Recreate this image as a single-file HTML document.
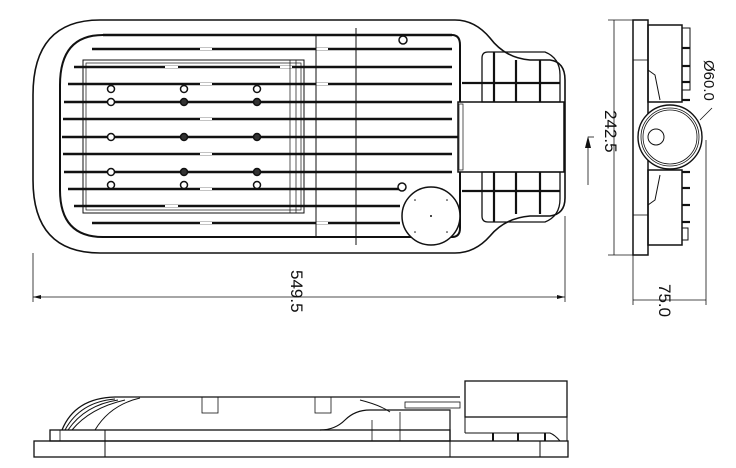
<!DOCTYPE html>
<html><head><meta charset="utf-8"><style>html,body{margin:0;padding:0;background:#fff}svg{display:block}</style></head>
<body>
<svg width="736" height="468" viewBox="0 0 736 468" xmlns="http://www.w3.org/2000/svg" fill="none" stroke="#111" font-family="Liberation Sans, sans-serif">
<!-- TOP VIEW -->
<path d="M100,20 H455 Q475,20 490,38 Q505,58 530,60 H550 Q565,62 565,80 V198 Q565,214 550,216 H530 Q505,218 490,236 Q475,253 455,253 H100 Q33,253 33,180 V95 Q33,20 100,20 Z" stroke-width="1.6"/>
<path d="M103,35 H452 Q460,35 460,45 V228 Q460,237 452,237 H103 Q60,237 60,190 V85 Q60,35 103,35 Z" stroke-width="2"/>
<g stroke-width="2.6">
<line x1="103" y1="35" x2="452" y2="35"/>
<line x1="92" y1="49" x2="452" y2="49"/>
<line x1="74" y1="67" x2="452" y2="67"/>
<line x1="68" y1="84" x2="452" y2="84"/>
<line x1="64" y1="102" x2="452" y2="102"/>
<line x1="63" y1="119" x2="452" y2="119"/>
<line x1="62" y1="137" x2="458" y2="137"/>
<line x1="63" y1="154" x2="452" y2="154"/>
<line x1="64" y1="172" x2="452" y2="172"/>
<line x1="68" y1="189" x2="400" y2="189"/>
<line x1="74" y1="206" x2="400" y2="206"/>
<line x1="92" y1="223" x2="400" y2="223"/>
</g>
<g stroke="#fff" stroke-width="2">
<line x1="200" y1="49" x2="212" y2="49"/><line x1="316" y1="49" x2="328" y2="49"/>
<line x1="165" y1="67" x2="178" y2="67"/><line x1="280" y1="67" x2="292" y2="67"/>
<line x1="200" y1="84" x2="212" y2="84"/><line x1="316" y1="84" x2="328" y2="84"/>
<line x1="200" y1="119" x2="212" y2="119"/><line x1="200" y1="154" x2="212" y2="154"/>
<line x1="200" y1="189" x2="212" y2="189"/><line x1="165" y1="206" x2="178" y2="206"/>
<line x1="200" y1="223" x2="212" y2="223"/><line x1="316" y1="223" x2="328" y2="223"/>
</g>
<rect x="83" y="60" width="221" height="153" stroke-width="1"/>
<rect x="86" y="63" width="215" height="147" stroke-width="0.7"/>
<line x1="290" y1="60" x2="290" y2="213" stroke-width="0.7"/><line x1="296" y1="60" x2="296" y2="213" stroke-width="0.7"/>
<line x1="316" y1="35" x2="316" y2="237" stroke-width="1"/>
<line x1="356" y1="28" x2="356" y2="245" stroke-width="1"/>
<g stroke-width="1.5" fill="#fff">
<circle cx="111" cy="89" r="3.5"/><circle cx="184" cy="89" r="3.5"/><circle cx="257" cy="89" r="3.5"/>
<circle cx="111" cy="102" r="3.5"/><circle cx="184" cy="102" r="3.5" fill="#333"/><circle cx="257" cy="102" r="3.5" fill="#333"/>
<circle cx="111" cy="137" r="3.5"/><circle cx="184" cy="137" r="3.5" fill="#333"/><circle cx="257" cy="137" r="3.5" fill="#333"/>
<circle cx="111" cy="172" r="3.5"/><circle cx="184" cy="172" r="3.5" fill="#333"/><circle cx="257" cy="172" r="3.5" fill="#333"/>
<circle cx="111" cy="185" r="3.5"/><circle cx="184" cy="185" r="3.5"/><circle cx="257" cy="185" r="3.5"/>
<circle cx="403" cy="40" r="4"/><circle cx="402" cy="187" r="4"/>
</g>
<circle cx="431" cy="216" r="29" stroke-width="1.5" fill="#fff"/>
<g fill="#111" stroke="none"><circle cx="431" cy="216" r="1"/><circle cx="415" cy="200" r=".8"/><circle cx="447" cy="200" r=".8"/><circle cx="415" cy="232" r=".8"/><circle cx="447" cy="232" r=".8"/></g>
<rect x="458" y="102" width="106" height="70" stroke-width="1.5" fill="#fff"/>
<rect x="459" y="104" width="4" height="66" stroke-width="0.7"/>
<path d="M488,52 H545 Q560,58 560,75 V102 H482 V58 Q482,52 488,52 Z" stroke-width="1.3"/>
<path d="M488,222 H545 Q560,216 560,199 V172 H482 V216 Q482,222 488,222 Z" stroke-width="1.3"/>
<g stroke-width="2.2">
<line x1="494" y1="52" x2="494" y2="102"/><line x1="516" y1="60" x2="516" y2="102"/><line x1="540" y1="60" x2="540" y2="102"/>
<line x1="462" y1="83" x2="560" y2="83"/>
<line x1="494" y1="172" x2="494" y2="222"/><line x1="516" y1="172" x2="516" y2="214"/><line x1="540" y1="172" x2="540" y2="214"/>
<line x1="462" y1="191" x2="560" y2="191"/>
</g>
<!-- 549.5 dim -->
<g stroke-width="0.8">
<line x1="33" y1="253" x2="33" y2="302"/><line x1="565" y1="216" x2="565" y2="302"/>
<line x1="33" y1="297" x2="565" y2="297"/>
</g>
<path d="M33,297 l8,-2 v4z M565,297 l-8,-2 v4z" fill="#111" stroke="none"/>
<text x="0" y="0" transform="translate(291,270) rotate(90)" font-size="17" fill="#111" stroke="none">549.5</text>
<!-- SIDE VIEW -->
<rect x="633" y="20" width="15" height="235" stroke-width="1.5"/>
<line x1="633" y1="60" x2="648" y2="60" stroke-width=".8"/><line x1="633" y1="215" x2="648" y2="215" stroke-width=".8"/>
<rect x="648" y="25" width="34" height="77" stroke-width="1.5"/>
<rect x="648" y="170" width="34" height="75" stroke-width="1.5"/>
<rect x="682" y="28" width="8" height="62" stroke-width="1"/>
<rect x="682" y="228" width="6" height="12" stroke-width="1"/>
<path d="M648,70 L655,75 L660,100" stroke-width="1"/><path d="M648,205 L655,200 L660,175" stroke-width="1"/>
<g stroke-width="2.2"><line x1="682" y1="48" x2="690" y2="48"/><line x1="682" y1="66" x2="690" y2="66"/><line x1="682" y1="82" x2="690" y2="82"/><line x1="682" y1="100" x2="690" y2="100"/>
<line x1="682" y1="172" x2="690" y2="172"/><line x1="682" y1="188" x2="690" y2="188"/><line x1="682" y1="205" x2="690" y2="205"/><line x1="682" y1="222" x2="690" y2="222"/></g>
<circle cx="670" cy="137" r="32" stroke-width="1.4" fill="#fff"/>
<circle cx="670" cy="137" r="29" stroke-width="0.8"/><circle cx="670" cy="137" r="27" stroke-width="0.8"/>
<circle cx="656" cy="137" r="8" stroke-width="1"/>
<line x1="700" y1="120" x2="712" y2="108" stroke-width="0.8"/>
<text transform="translate(704,60) rotate(90)" font-size="15" fill="#111" stroke="none">Ø60.0</text>
<g stroke-width="0.8">
<line x1="614" y1="20" x2="614" y2="255"/><line x1="608" y1="20" x2="633" y2="20"/><line x1="608" y1="255" x2="633" y2="255"/>
<line x1="706" y1="140" x2="706" y2="305"/><line x1="633" y1="255" x2="633" y2="305"/>
<line x1="633" y1="300" x2="706" y2="300"/>
<line x1="588" y1="142" x2="588" y2="185"/><line x1="588" y1="137" x2="594" y2="137"/>
</g>
<path d="M588,136 l-3,12 h6z" fill="#111" stroke="none"/>
<text transform="translate(605,110) rotate(90)" font-size="17" fill="#111" stroke="none">242.5</text>
<text transform="translate(659,284) rotate(90)" font-size="17" fill="#111" stroke="none">75.0</text>
<!-- FRONT VIEW -->
<rect x="34" y="441" width="534" height="16" stroke-width="1.3"/>
<line x1="105" y1="430" x2="105" y2="457" stroke-width="1"/><line x1="450" y1="441" x2="450" y2="457" stroke-width="1"/>
<line x1="540" y1="441" x2="540" y2="457" stroke-width="1"/>
<rect x="50" y="430" width="400" height="11" stroke-width="1.3"/>
<line x1="60" y1="430" x2="60" y2="441" stroke-width=".8"/>
<path d="M62,430 Q75,398 115,397 H460" stroke-width="1.3"/>
<path d="M65,430 Q80,402 115,399" stroke-width="1"/><path d="M68,430 Q85,405 118,400" stroke-width="1"/>
<path d="M72,430 Q90,408 125,400" stroke-width="1"/><path d="M95,430 Q110,405 140,398" stroke-width="1"/>
<path d="M320,430 Q335,430 345,420 Q355,410 370,410 H450 V441" stroke-width="1.2"/>
<path d="M360,400 Q380,405 390,412" stroke-width="1"/>
<rect x="202" y="397" width="16" height="16" stroke-width=".8"/><rect x="315" y="397" width="16" height="16" stroke-width=".8"/>
<line x1="400" y1="412" x2="400" y2="441" stroke-width=".8"/><line x1="372" y1="420" x2="372" y2="441" stroke-width=".8"/>
<rect x="405" y="402" width="55" height="6" stroke-width=".8"/>
<rect x="465" y="381" width="102" height="36" stroke-width="1.3"/>
<line x1="465" y1="417" x2="465" y2="433" stroke-width="1"/><line x1="567" y1="417" x2="567" y2="441" stroke-width="1"/>
<path d="M465,433 H550 Q555,435 560,441" stroke-width="1"/>
<g stroke-width="2"><line x1="493" y1="433" x2="493" y2="441"/><line x1="518" y1="433" x2="518" y2="441"/><line x1="545" y1="433" x2="545" y2="441"/></g>
</svg>
</body></html>
